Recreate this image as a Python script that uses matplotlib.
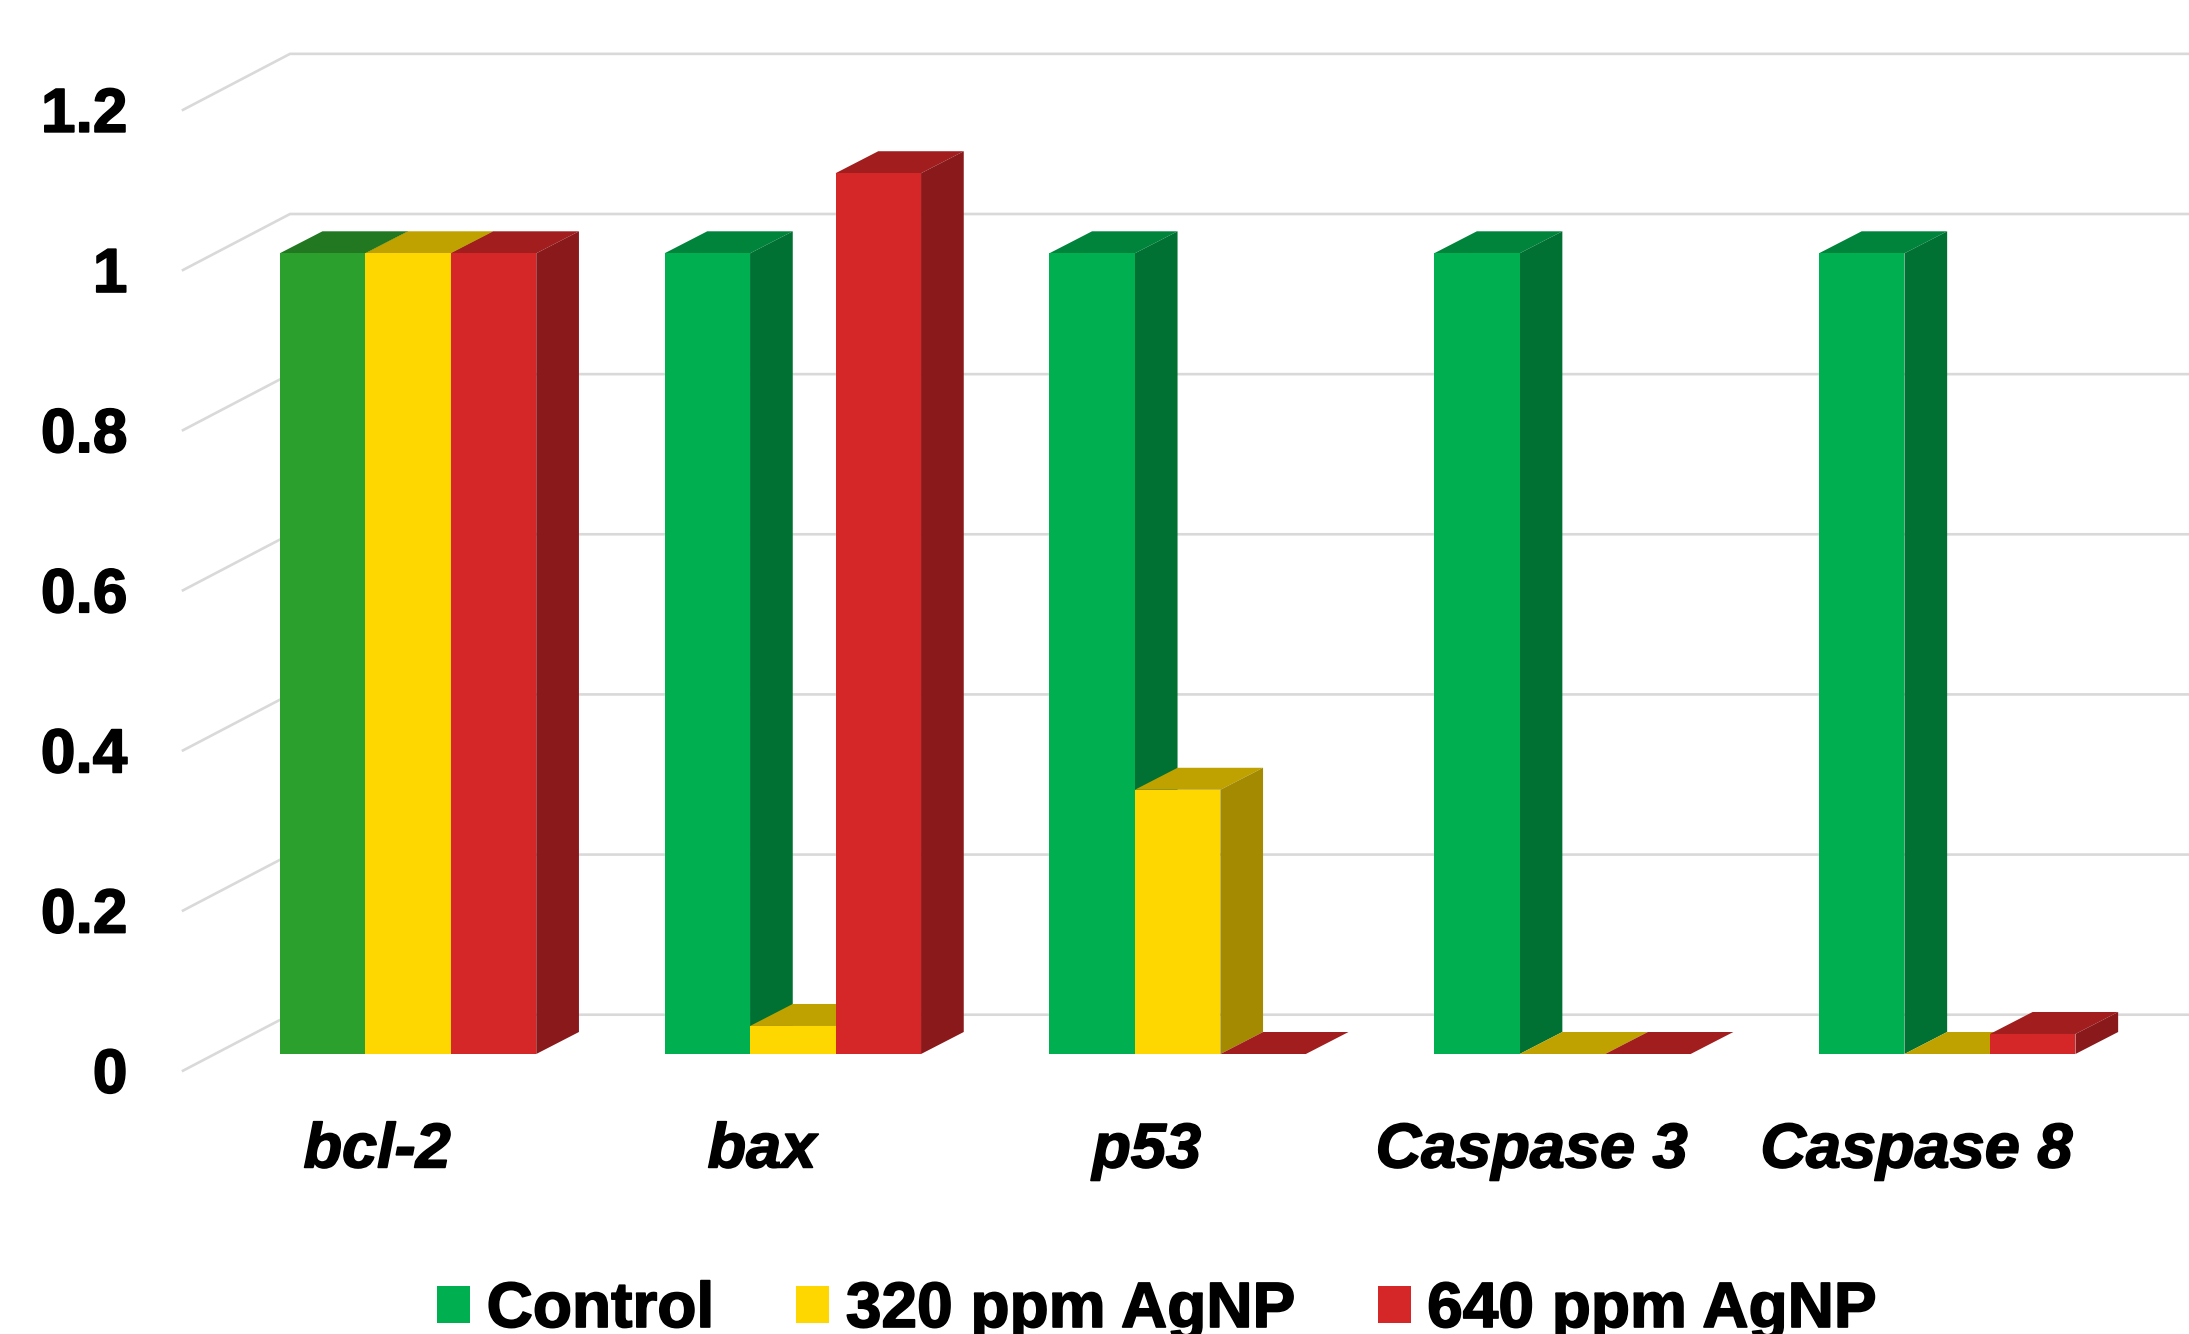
import matplotlib
matplotlib.use('Agg')
import matplotlib.pyplot as plt
import matplotlib.patheffects as pe
from matplotlib.patches import Patch, Polygon
import numpy as np

plt.rcParams['font.family'] = ['Liberation Sans', 'DejaVu Sans']

# values
genes = ['bcl-2', 'bax', 'p53', 'Caspase 3', 'Caspase 8']
series_names = ['Control', '320 ppm AgNP', '640 ppm AgNP']
control = [1, 1, 1, 1, 1]
ppm320 = [1, 0.035, 0.33, 0, 0]
ppm640 = [1, 1.1, 0, 0, 0.025]
y_ticks = [0, 0.2, 0.4, 0.6, 0.8, 1, 1.2]
y_tick_labels = ['0', '0.2', '0.4', '0.6', '0.8', '1', '1.2']

green = '#00B050'
yellow = '#FFD700'
red = '#D62728'
bcl_green = '#2CA02C'  # first control bar has its own colour

W, H = 2189, 1334
FLOOR_PX = 1070.7   # pixel row of value 0 on the front edge
UNIT_Y = 800.7      # pixels per 1.0
UNIT_X = 384.8      # pixels per category
LEFT_PX = 183
FIRST_PX = 408

fig = plt.figure(figsize=(W / 100, H / 100), dpi=100, facecolor='white')
ax = fig.add_axes([LEFT_PX / W, 1 - FLOOR_PX / H, 1 - LEFT_PX / W, FLOOR_PX / H])
ax.set_xlim((LEFT_PX - FIRST_PX) / UNIT_X, (W - FIRST_PX) / UNIT_X)
ax.set_ylim(0, FLOOR_PX / UNIT_Y)
xmin, xmax = ax.get_xlim()

# the bars stand a little in front of the wall, on the floor
lift = 16.7 / UNIT_Y
bar_w = 85.5 / UNIT_X
dx = 42.7 / UNIT_X
dy = 22 / UNIT_Y
wall_dx = 107 / UNIT_X
wall_dy = 56 / UNIT_Y


def shade(col, f):
    r, g, b, _ = matplotlib.colors.to_rgba(col)
    return (r * f, g * f, b * f)


# gridlines run along the side wall then along the back wall
for t in y_ticks:
    ax.plot([xmin, xmin + wall_dx, xmax], [t, t + wall_dy, t + wall_dy],
            color='#D9D9D9', lw=1.9, zorder=1, solid_joinstyle='miter', clip_on=False)

x = np.arange(len(genes))
all_series = [control, ppm320, ppm640]
all_colors = [[bcl_green, green, green, green, green], [yellow] * 5, [red] * 5]

z = 2
for i, (vals, cols) in enumerate(zip(all_series, all_colors)):
    left = x + (i - 1.5) * bar_w
    for l, v, c in zip(left, vals, cols):
        top_y = lift + v
        ax.add_patch(Polygon([(l, top_y), (l + bar_w, top_y),
                              (l + bar_w + dx, top_y + dy), (l + dx, top_y + dy)],
                             facecolor=shade(c, 0.75), edgecolor='none', zorder=z))
        ax.add_patch(Polygon([(l + bar_w, lift), (l + bar_w + dx, lift + dy),
                              (l + bar_w + dx, top_y + dy), (l + bar_w, top_y)],
                             facecolor=shade(c, 0.64), edgecolor='none', zorder=z))
        ax.bar(l, v, width=bar_w, bottom=lift, align='edge', color=c, zorder=z + 1)
    z += 2

ax.set_yticks(y_ticks)
ax.set_yticklabels(y_tick_labels, fontsize=44.8, fontweight='bold')
ax.set_xticks(x - 31 / UNIT_X)
ax.set_xticklabels(genes, fontsize=45.4, fontweight='bold', fontstyle='italic')
ax.tick_params(axis='y', length=0, pad=40)
ax.tick_params(axis='x', length=0, pad=36.5)
for s in ax.spines.values():
    s.set_visible(False)
ax.patch.set_alpha(0)

handles = [Patch(facecolor=c, label=n) for c, n in zip([green, yellow, red], series_names)]
leg = fig.legend(handles=handles, ncol=3, loc='lower left', bbox_to_anchor=(437 / W, -0.0045),
                 frameon=False, prop={'size': 46.1, 'weight': 'bold'}, borderpad=0, borderaxespad=0,
                 handlelength=0.515, handleheight=0.515, handletextpad=0.26, columnspacing=1.28)

# reference text is a touch heavier than plain bold
heavy = [pe.withStroke(linewidth=1.2, foreground='black')]
for t in ax.get_xticklabels() + ax.get_yticklabels() + leg.get_texts():
    t.set_path_effects(heavy)

fig.savefig('out.png', dpi=100)
